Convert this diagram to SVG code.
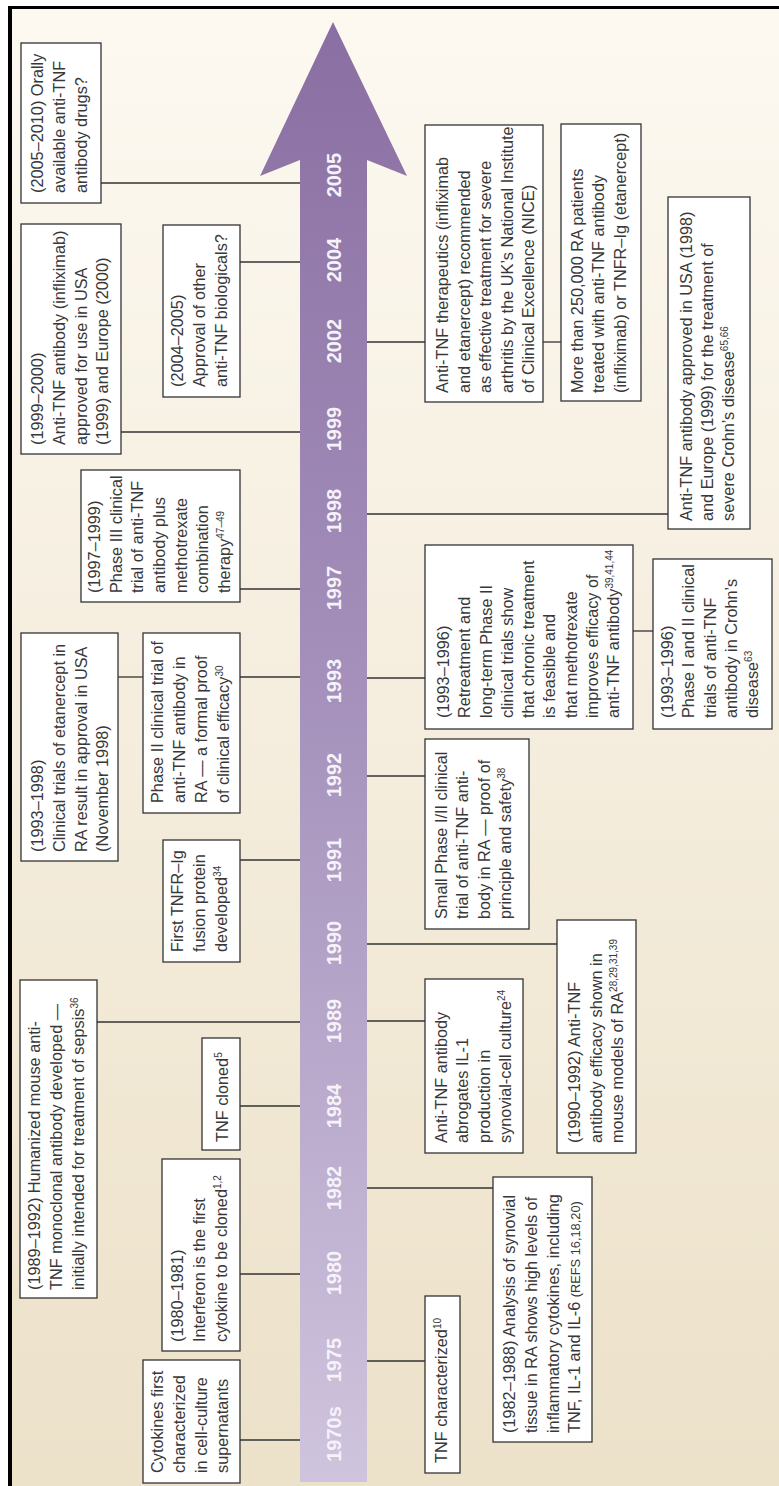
<svg xmlns="http://www.w3.org/2000/svg" width="779" height="1486" viewBox="0 0 779 1486">
<style>
.b{fill:#fff;stroke:#333;stroke-width:1.3}
.c{stroke:#333;stroke-width:1.3;fill:none}
.t{font-family:"Liberation Sans",Arial,sans-serif;font-size:16.3px;fill:#383838}
.s{font-size:10px}
.r{font-size:12.8px}
.y{font-family:"Liberation Sans",Arial,sans-serif;font-size:20px;font-weight:bold;fill:#f6f2fa;text-anchor:middle}
</style>
<defs>
<linearGradient id="bg" x1="0" y1="0" x2="0" y2="1">
<stop offset="0" stop-color="#fdf9f1"/>
<stop offset="1" stop-color="#ece1c9"/>
</linearGradient>
<linearGradient id="ar" gradientUnits="userSpaceOnUse" x1="0" y1="22" x2="0" y2="1482">
<stop offset="0" stop-color="#8a6fa2"/>
<stop offset="0.45" stop-color="#a490bb"/>
<stop offset="1" stop-color="#cfc4dd"/>
</linearGradient>
</defs>
<rect x="0" y="0" width="779" height="1486" fill="#fff"/>
<rect x="12" y="9" width="767" height="1477" fill="url(#bg)"/>
<rect x="8" y="6" width="771" height="3" fill="#000"/>
<rect x="8" y="6" width="4" height="1480" fill="#000"/>

<g id="arrow">
<polygon points="333,22 407,176 367,160 367,1482 300,1482 300,160 260,176" fill="url(#ar)"/>
<text class="y" transform="translate(341,175) rotate(-90)">2005</text>
<text class="y" transform="translate(341,260) rotate(-90)">2004</text>
<text class="y" transform="translate(341,341) rotate(-90)">2002</text>
<text class="y" transform="translate(341,429) rotate(-90)">1999</text>
<text class="y" transform="translate(341,511) rotate(-90)">1998</text>
<text class="y" transform="translate(341,588) rotate(-90)">1997</text>
<text class="y" transform="translate(341,681) rotate(-90)">1993</text>
<text class="y" transform="translate(341,775) rotate(-90)">1992</text>
<text class="y" transform="translate(341,860) rotate(-90)">1991</text>
<text class="y" transform="translate(341,943) rotate(-90)">1990</text>
<text class="y" transform="translate(341,1021) rotate(-90)">1989</text>
<text class="y" transform="translate(341,1106) rotate(-90)">1984</text>
<text class="y" transform="translate(341,1188) rotate(-90)">1982</text>
<text class="y" transform="translate(341,1273) rotate(-90)">1980</text>
<text class="y" transform="translate(341,1360) rotate(-90)">1975</text>
<text class="y" transform="translate(341,1434) rotate(-90)">1970s</text>
</g>

<g id="connectors">
<line class="c" x1="240" y1="1440" x2="300" y2="1440"/>
<line class="c" x1="240" y1="1274" x2="300" y2="1274"/>
<line class="c" x1="240" y1="1106" x2="300" y2="1106"/>
<line class="c" x1="97" y1="1022" x2="300" y2="1022"/>
<line class="c" x1="240" y1="860" x2="300" y2="860"/>
<line class="c" x1="118" y1="677" x2="143" y2="677"/>
<line class="c" x1="240" y1="677" x2="300" y2="677"/>
<line class="c" x1="240" y1="589" x2="300" y2="589"/>
<line class="c" x1="121" y1="432" x2="300" y2="432"/>
<line class="c" x1="240" y1="262" x2="300" y2="262"/>
<line class="c" x1="101" y1="183" x2="300" y2="183"/>
<line class="c" x1="367" y1="342" x2="425" y2="342"/>
<line class="c" x1="543" y1="342" x2="561" y2="342"/>
<line class="c" x1="367" y1="514" x2="668" y2="514"/>
<line class="c" x1="367" y1="678" x2="425" y2="678"/>
<line class="c" x1="633" y1="631" x2="653" y2="631"/>
<line class="c" x1="367" y1="776" x2="425" y2="776"/>
<line class="c" x1="367" y1="944" x2="557" y2="944"/>
<line class="c" x1="367" y1="1021" x2="425" y2="1021"/>
<line class="c" x1="367" y1="1188" x2="493" y2="1188"/>
<line class="c" x1="367" y1="1361" x2="425" y2="1361"/>
</g>

<g id="n1970s">
<rect class="b" x="143" y="1360" width="97" height="123"/>
<text class="t" transform="translate(163,1473) rotate(-90)"><tspan x="0" y="0">Cytokines first</tspan><tspan x="0" y="22">characterized</tspan><tspan x="0" y="44">in cell-culture</tspan><tspan x="0" y="65">supernatants</tspan></text>
</g>

<g id="n1980">
<rect class="b" x="162" y="1159" width="78" height="192"/>
<text class="t" transform="translate(183,1342) rotate(-90)"><tspan x="0" y="0">(1980–1981)</tspan><tspan x="0" y="22">Interferon is the first</tspan><tspan x="0" y="44">cytokine to be cloned<tspan class="s" dy="-6">1,2</tspan></tspan></text>
</g>

<g id="n1984">
<rect class="b" x="202" y="1038" width="38" height="112"/>
<text class="t" transform="translate(228,1142) rotate(-90)">TNF cloned<tspan class="s" dy="-6">5</tspan></text>
</g>

<g id="n1989a">
<rect class="b" x="20" y="980" width="77" height="318"/>
<text class="t" transform="translate(40,1290) rotate(-90)"><tspan x="0" y="0">(1989–1992) Humanized mouse anti-</tspan><tspan x="0" y="22">TNF monoclonal antibody developed —</tspan><tspan x="0" y="44">initially intended for treatment of sepsis<tspan class="s" dy="-6">36</tspan></tspan></text>
</g>

<g id="n1991">
<rect class="b" x="163" y="840" width="77" height="122"/>
<text class="t" transform="translate(183,952) rotate(-90)"><tspan x="0" y="0">First TNFR–Ig</tspan><tspan x="0" y="22">fusion protein</tspan><tspan x="0" y="44">developed<tspan class="s" dy="-6">34</tspan></tspan></text>
</g>

<g id="n1993a">
<rect class="b" x="21" y="633" width="97" height="228"/>
<text class="t" transform="translate(43,852) rotate(-90)"><tspan x="0" y="0">(1993–1998)</tspan><tspan x="0" y="22">Clinical trials of etanercept in</tspan><tspan x="0" y="44">RA result in approval in USA</tspan><tspan x="0" y="65">(November 1998)</tspan></text>
</g>

<g id="n1993b">
<rect class="b" x="143" y="633" width="97" height="180"/>
<text class="t" transform="translate(163,803) rotate(-90)"><tspan x="0" y="0">Phase II clinical trial of</tspan><tspan x="0" y="22">anti-TNF antibody in</tspan><tspan x="0" y="44">RA — a formal proof</tspan><tspan x="0" y="66">of clinical efficacy<tspan class="s" dy="-6">30</tspan></tspan></text>
</g>

<g id="n1997">
<rect class="b" x="81" y="470" width="159" height="132"/>
<text class="t" transform="translate(100,593) rotate(-90)"><tspan x="0" y="0">(1997–1999)</tspan><tspan x="0" y="22">Phase III clinical</tspan><tspan x="0" y="43">trial of anti-TNF</tspan><tspan x="0" y="65">antibody plus</tspan><tspan x="0" y="87">methotrexate</tspan><tspan x="0" y="108">combination</tspan><tspan x="0" y="130">therapy<tspan class="s" dy="-6">47–49</tspan></tspan></text>
</g>

<g id="n1999">
<rect class="b" x="21" y="224" width="100" height="230"/>
<text class="t" transform="translate(43,445) rotate(-90)"><tspan x="0" y="0">(1999–2000)</tspan><tspan x="0" y="22">Anti-TNF antibody (infliximab)</tspan><tspan x="0" y="44">approved for use in USA</tspan><tspan x="0" y="65">(1999) and Europe (2000)</tspan></text>
</g>

<g id="n2004">
<rect class="b" x="163" y="225" width="77" height="172"/>
<text class="t" transform="translate(183,387) rotate(-90)"><tspan x="0" y="0">(2004–2005)</tspan><tspan x="0" y="22">Approval of other</tspan><tspan x="0" y="44">anti-TNF biologicals?</tspan></text>
</g>

<g id="n2005">
<rect class="b" x="21" y="43" width="80" height="160"/>
<text class="t" transform="translate(43,193) rotate(-90)"><tspan x="0" y="0">(2005–2010) Orally</tspan><tspan x="0" y="22">available anti-TNF</tspan><tspan x="0" y="44">antibody drugs?</tspan></text>
</g>

<g id="n2002a">
<rect class="b" x="425" y="125" width="118" height="277"/>
<text class="t" transform="translate(448,393) rotate(-90)"><tspan x="0" y="0">Anti-TNF therapeutics (infliximab</tspan><tspan x="0" y="22">and etanercept) recommended</tspan><tspan x="0" y="43">as effective treatment for severe</tspan><tspan x="0" y="65">arthritis by the UK’s National Institute</tspan><tspan x="0" y="86">of Clinical Excellence (NICE)</tspan></text>
</g>

<g id="n2002b">
<rect class="b" x="561" y="124" width="80" height="277"/>
<text class="t" transform="translate(583,393) rotate(-90)"><tspan x="0" y="0">More than 250,000 RA patients</tspan><tspan x="0" y="21">treated with anti-TNF antibody</tspan><tspan x="0" y="43">(infliximab) or TNFR–Ig (etanercept)</tspan></text>
</g>

<g id="n1998">
<rect class="b" x="668" y="197" width="82" height="332"/>
<text class="t" transform="translate(692,521) rotate(-90)"><tspan x="0" y="0">Anti-TNF antibody approved in USA (1998)</tspan><tspan x="0" y="21">and Europe (1999) for the treatment of</tspan><tspan x="0" y="42">severe Crohn’s disease<tspan class="s" dy="-6">65,66</tspan></tspan></text>
</g>

<g id="n1993c">
<rect class="b" x="425" y="545" width="208" height="184"/>
<text class="t" transform="translate(449,718) rotate(-90)"><tspan x="0" y="0">(1993–1996)</tspan><tspan x="0" y="21.3">Retreatment and</tspan><tspan x="0" y="42.5">long-term Phase II</tspan><tspan x="0" y="64">clinical trials show</tspan><tspan x="0" y="85">that chronic treatment</tspan><tspan x="0" y="106">is feasible and</tspan><tspan x="0" y="127.5">that methotrexate</tspan><tspan x="0" y="149">improves efficacy of</tspan><tspan x="0" y="170">anti-TNF antibody<tspan class="s" dy="-6">39,41,44</tspan></tspan></text>
</g>

<g id="n1993d">
<rect class="b" x="653" y="559" width="119" height="170"/>
<text class="t" transform="translate(673,718) rotate(-90)"><tspan x="0" y="0">(1993–1996)</tspan><tspan x="0" y="21">Phase I and II clinical</tspan><tspan x="0" y="43">trials of anti-TNF</tspan><tspan x="0" y="64">antibody in Crohn’s</tspan><tspan x="0" y="85">disease<tspan class="s" dy="-6">63</tspan></tspan></text>
</g>

<g id="n1992">
<rect class="b" x="425" y="739" width="104" height="190"/>
<text class="t" transform="translate(447,919) rotate(-90)"><tspan x="0" y="0">Small Phase I/II clinical</tspan><tspan x="0" y="21">trial of anti-TNF anti-</tspan><tspan x="0" y="43">body in RA — proof of</tspan><tspan x="0" y="64">principle and safety<tspan class="s" dy="-6">38</tspan></tspan></text>
</g>

<g id="n1990">
<rect class="b" x="557" y="920" width="79" height="233"/>
<text class="t" transform="translate(580,1143) rotate(-90)"><tspan x="0" y="0">(1990–1992) Anti-TNF</tspan><tspan x="0" y="22">antibody efficacy shown in</tspan><tspan x="0" y="43">mouse models of RA<tspan class="s" dy="-6">28,29,31,39</tspan></tspan></text>
</g>

<g id="n1989b">
<rect class="b" x="425" y="979" width="98" height="174"/>
<text class="t" transform="translate(447,1143) rotate(-90)"><tspan x="0" y="0">Anti-TNF antibody</tspan><tspan x="0" y="21">abrogates IL-1</tspan><tspan x="0" y="43">production in</tspan><tspan x="0" y="64">synovial-cell culture<tspan class="s" dy="-6">24</tspan></tspan></text>
</g>

<g id="n1982">
<rect class="b" x="493" y="1177" width="99" height="265"/>
<text class="t" transform="translate(515,1433) rotate(-90)"><tspan x="0" y="0">(1982–1988) Analysis of synovial</tspan><tspan x="0" y="22">tissue in RA shows high levels of</tspan><tspan x="0" y="44">inflammatory cytokines, including</tspan><tspan x="0" y="65">TNF, IL-1 and IL-6 <tspan class="r">(REFS 16,18,20)</tspan></tspan></text>
</g>

<g id="n1975">
<rect class="b" x="425" y="1296" width="35" height="177"/>
<text class="t" transform="translate(447,1463) rotate(-90)">TNF characterized<tspan class="s" dy="-6">10</tspan></text>
</g>
</svg>
